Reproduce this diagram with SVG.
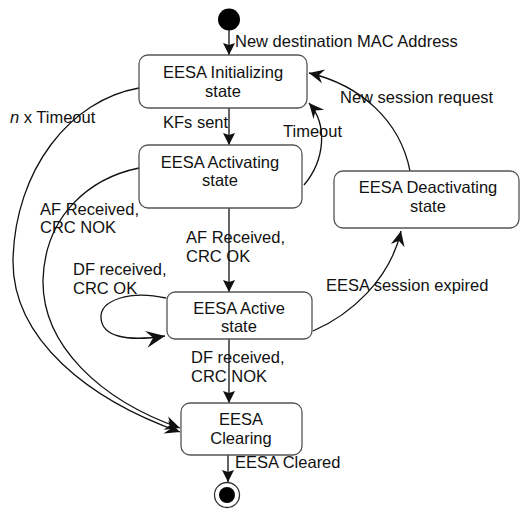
<svg xmlns="http://www.w3.org/2000/svg" width="520" height="509" viewBox="0 0 520 509">
<style>
  text { font-family: "Liberation Sans", Arial, sans-serif; font-size: 16.5px; fill: #111; }
  .c { text-anchor: middle; }
  .box { fill: #fff; stroke: #555; stroke-width: 1.3; }
  .ln { fill: none; stroke: #111; stroke-width: 1.3; }
  .sa { marker-end: url(#arrS); }
  .la { marker-end: url(#arrL); }
  .xa { marker-end: url(#arrXL); }
</style>
<defs>
  <marker id="arrS" markerUnits="userSpaceOnUse" viewBox="-14 -8 16 16" refX="0" refY="0" markerWidth="16" markerHeight="16" orient="auto">
    <path d="M0,0 L-12,-6 L-10,0 L-12,6 Z" fill="#111"/>
  </marker>
  <marker id="arrL" markerUnits="userSpaceOnUse" viewBox="-18 -9 20 18" refX="0" refY="0" markerWidth="20" markerHeight="18" orient="auto">
    <path d="M0,0 L-15,-7 L-10,0 L-15,7 Z" fill="#111"/>
  </marker>
  <marker id="arrXL" markerUnits="userSpaceOnUse" viewBox="-22 -11 24 22" refX="0" refY="0" markerWidth="24" markerHeight="22" orient="auto">
    <path d="M0,0 L-19,-8 L-12,0 L-19,9 Z" fill="#111"/>
  </marker>
</defs>

<g id="connectors">
  <line class="ln sa" x1="229" y1="30" x2="229" y2="55"/>
  <line class="ln sa" x1="229" y1="108" x2="229" y2="145"/>
  <line class="ln sa" x1="229" y1="208" x2="229" y2="292"/>
  <line class="ln sa" x1="229" y1="339" x2="229" y2="403"/>
  <line class="ln sa" x1="228" y1="455" x2="228" y2="482"/>
  <path class="ln la" d="M304,185 C325,160 328,125 309,103"/>
  <path class="ln la" d="M410,171 C400,120 360,85 309,73"/>
  <path class="ln la" d="M313,331 C350,315 390,280 401,231"/>
  <path class="ln la" d="M139,88 C70,100 15,170 13,260 C12,340 90,400 180,432"/>
  <path class="ln la" d="M139,168 C90,178 45,215 43,280 C42,345 100,400 180,428"/>
  <path class="ln xa" d="M166,298 C130,290 100,300 101,318 C102,336 125,342 165,336"/>
  <text x="235" y="47">New destination MAC Address</text>
  <text x="163" y="128">KFs sent</text>
  <text x="283" y="137">Timeout</text>
  <text x="340" y="103">New session request</text>
  <text x="10" y="123"><tspan font-style="italic">n</tspan> x Timeout</text>
  <text x="40" y="215">AF Received,</text>
  <text x="40" y="233">CRC NOK</text>
  <text x="186" y="243">AF Received,</text>
  <text x="186" y="262">CRC OK</text>
  <text x="73" y="275">DF received,</text>
  <text x="73" y="294">CRC OK</text>
  <text x="326" y="291">EESA session expired</text>
  <text x="191" y="363">DF received,</text>
  <text x="191" y="382">CRC NOK</text>
  <text x="235" y="468">EESA Cleared</text>
</g>

<g id="initial">
  <circle cx="229" cy="19.5" r="11" fill="#000"/>
</g>

<g id="initializing">
  <rect class="box" x="139" y="55" width="168" height="53" rx="9"/>
  <text class="c" x="223" y="78">EESA Initializing</text>
  <text class="c" x="223" y="97">state</text>
</g>

<g id="activating">
  <rect class="box" x="139" y="145" width="163" height="63" rx="9"/>
  <text class="c" x="220" y="168">EESA Activating</text>
  <text class="c" x="220" y="186">state</text>
</g>

<g id="deactivating">
  <rect class="box" x="334" y="171" width="185" height="57" rx="9"/>
  <text class="c" x="428" y="193">EESA Deactivating</text>
  <text class="c" x="428" y="212">state</text>
</g>

<g id="active">
  <rect class="box" x="167" y="292" width="145" height="47" rx="8"/>
  <text class="c" x="239" y="314">EESA Active</text>
  <text class="c" x="239" y="332">state</text>
</g>

<g id="clearing">
  <rect class="box" x="181" y="403" width="121" height="52" rx="9"/>
  <text class="c" x="241" y="425">EESA</text>
  <text class="c" x="241" y="444">Clearing</text>
</g>

<g id="final">
  <circle cx="227" cy="495" r="12.5" fill="#fff" stroke="#333" stroke-width="1.3"/>
  <circle cx="227" cy="495" r="8" fill="#000"/>
</g>
</svg>
